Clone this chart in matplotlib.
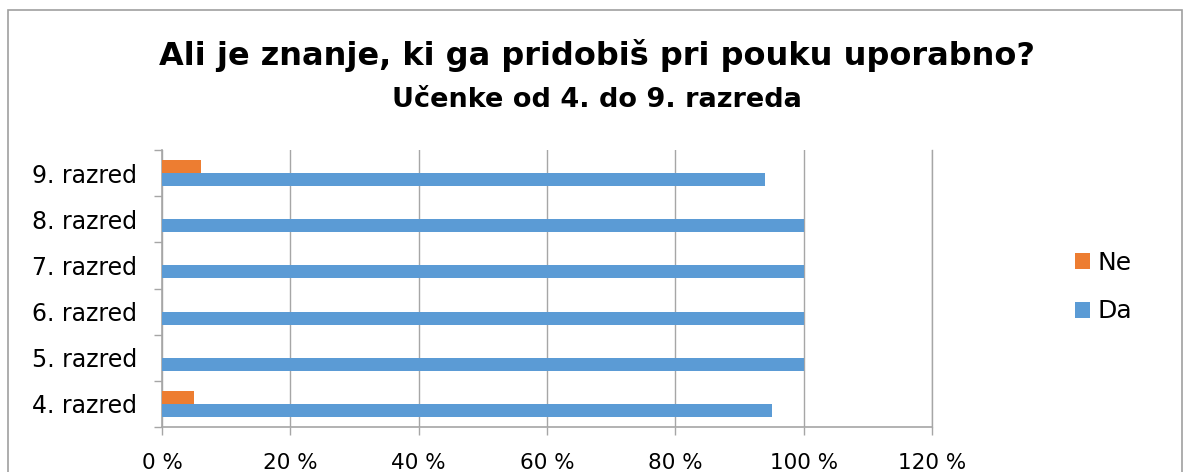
import numpy as np
import matplotlib.pyplot as plt
from matplotlib.patches import Rectangle

razredi = ["4. razred", "5. razred", "6. razred", "7. razred", "8. razred", "9. razred"]
da = [95, 100, 100, 100, 100, 94]
ne = [5, 0, 0, 0, 0, 6]
x_ticks = [0, 20, 40, 60, 80, 100, 120]
x_labels = ["0 %", "20 %", "40 %", "60 %", "80 %", "100 %", "120 %"]

plt.rcParams['font.family'] = ['DejaVu Sans']
fig = plt.figure(figsize=(11.94, 4.72), dpi=100)
ax = fig.add_axes([162 / 1194, 1 - 427 / 472, 770 / 1194, 277 / 472])

# outer chart border (bottom runs off the picture)
fig.patches.append(Rectangle((8 / 1194, -0.1), 1174 / 1194, 1.1 - 10 / 472,
                             transform=fig.transFigure, fill=False,
                             edgecolor='#A0A0A0', linewidth=1.2))

y = np.arange(len(razredi))
h = 0.28
ax.barh(y - h / 2, da, height=h, color='#5B9BD5', label='Da', zorder=3)
ax.barh(y + h / 2, ne, height=h, color='#ED7D31', label='Ne', zorder=3)

ax.set_xlim(0, 120)
ax.set_ylim(-0.5, len(razredi) - 0.5)
ax.set_xticks(x_ticks)
ax.set_xticklabels(x_labels, fontsize=15.5)
ax.set_yticks(y)
ax.set_yticklabels(razredi, fontsize=17)
ax.set_yticks(np.arange(-0.5, len(razredi)), minor=True)
ax.tick_params(axis='y', which='major', length=0, pad=18)
ax.tick_params(axis='y', which='minor', length=6, color='#A6A6A6', width=1)
ax.tick_params(axis='x', length=6, color='#A6A6A6', width=1, pad=12.5)

ax.grid(axis='x', color='#A6A6A6', linewidth=1, zorder=0)
ax.spines['top'].set_visible(False)
ax.spines['right'].set_color('#A6A6A6')
ax.spines['right'].set_linewidth(1)
for s in ['left', 'bottom']:
    ax.spines[s].set_color('#A6A6A6')
    ax.spines[s].set_linewidth(1.2)

fig.text(0.5, 1 - 55 / 472, "Ali je znanje, ki ga pridobiš pri pouku uporabno?",
         ha='center', va='center', fontsize=23, fontweight='bold')
fig.text(0.5, 1 - 100 / 472, "Učenke od 4. do 9. razreda",
         ha='center', va='center', fontsize=19.5, fontweight='bold')

handles, labels = ax.get_legend_handles_labels()
fig.legend(handles[::-1], labels[::-1], loc='center left',
           bbox_to_anchor=(1052 / 1194, 1 - 287 / 472), frameon=False,
           fontsize=18, handlelength=0.6, handleheight=0.6,
           handletextpad=0.3, labelspacing=1.0)

fig.savefig("out.png", dpi=100)
